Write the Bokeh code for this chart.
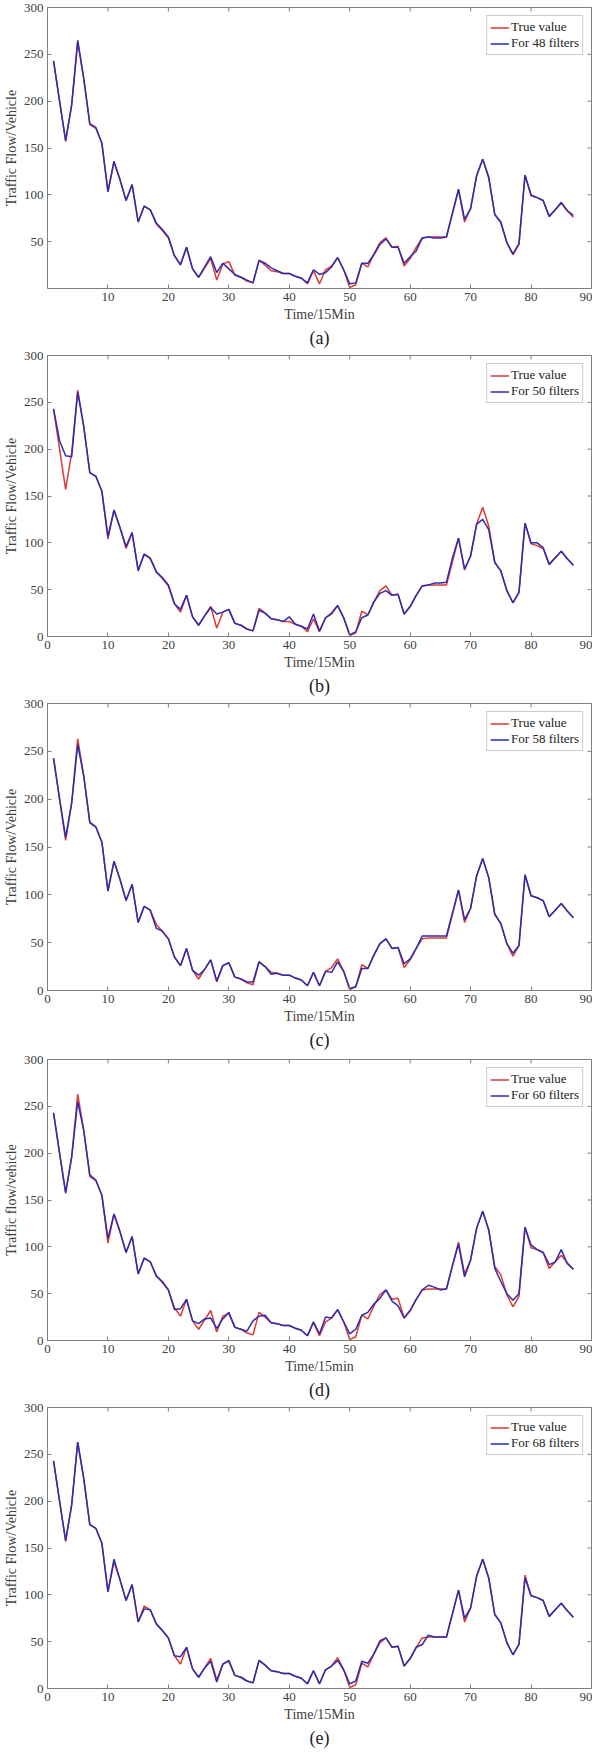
from bokeh.plotting import figure
from bokeh.models import Range1d, FixedTicker, Title, Legend, LegendItem
from bokeh.layouts import column
from bokeh.embed import file_html
from bokeh.resources import INLINE
import math

# time index (one step = 15 min)
time_steps = list(range(1, 88))

# measured traffic flow (vehicles)
true_value = [243, 200, 157, 196, 263, 224, 175, 171, 155, 104,
              135, 116, 94, 111, 71, 88, 84, 69, 62, 54,
              35, 26, 44, 21, 12, 22, 32, 9, 26, 29,
              14, 12, 8, 6, 30, 25, 19, 18, 16, 16,
              13, 11, 5, 19, 5, 20, 24, 33, 20, 1,
              4, 27, 23, 37, 49, 54, 44, 45, 24, 32,
              44, 54, 55, 55, 55, 55, 80, 105, 71, 86,
              120, 138, 118, 79, 70, 49, 36, 47, 121, 99,
              97, 94, 77, 84, 91, 83, 76]

# predictions for the different filter counts
pred_48 = [243, 200, 158, 196, 265, 224, 176, 172, 155, 103,
           136, 116, 94, 111, 71, 88, 84, 70, 63, 55,
           35, 25, 44, 21, 12, 23, 34, 17, 27, 21,
           15, 12, 9, 6, 30, 27, 22, 19, 16, 16,
           13, 11, 6, 20, 15, 17, 23, 33, 20, 5,
           6, 27, 27, 36, 47, 53, 44, 44, 27, 34,
           40, 54, 55, 54, 54, 55, 81, 106, 74, 85,
           121, 138, 119, 79, 71, 49, 37, 48, 121, 100,
           97, 94, 77, 84, 92, 83, 78]

pred_50 = [243, 209, 193, 192, 261, 224, 175, 171, 155, 107,
           135, 116, 96, 111, 70, 88, 83, 69, 63, 55,
           35, 29, 44, 21, 12, 22, 31, 24, 26, 29,
           14, 12, 8, 6, 28, 25, 19, 18, 16, 21,
           13, 11, 8, 24, 6, 20, 25, 33, 20, 2,
           5, 20, 23, 37, 46, 49, 44, 45, 24, 32,
           44, 54, 55, 57, 57, 58, 84, 105, 72, 86,
           120, 125, 114, 79, 70, 49, 36, 47, 121, 100,
           100, 95, 77, 84, 91, 83, 76]

pred_58 = [243, 200, 160, 196, 257, 224, 176, 171, 155, 104,
           135, 116, 94, 111, 71, 88, 84, 65, 62, 54,
           35, 26, 44, 21, 16, 22, 32, 10, 26, 29,
           14, 12, 9, 9, 30, 25, 17, 18, 16, 16,
           13, 11, 5, 19, 5, 20, 19, 30, 20, 2,
           4, 23, 23, 37, 49, 54, 44, 45, 28, 33,
           44, 57, 57, 57, 57, 57, 81, 105, 74, 86,
           120, 138, 118, 80, 70, 49, 39, 47, 121, 99,
           97, 94, 77, 84, 91, 83, 76]

pred_60 = [243, 200, 158, 196, 255, 224, 177, 171, 155, 109,
           135, 116, 94, 111, 71, 88, 84, 69, 63, 54,
           33, 34, 44, 21, 18, 23, 24, 13, 23, 30,
           14, 12, 10, 21, 26, 27, 19, 18, 16, 16,
           13, 11, 5, 20, 7, 25, 24, 33, 20, 7,
           12, 27, 30, 39, 45, 54, 42, 37, 24, 32,
           44, 54, 59, 57, 54, 55, 80, 103, 68, 86,
           120, 138, 118, 77, 63, 50, 43, 50, 121, 102,
           97, 94, 81, 84, 97, 82, 76]

pred_68 = [243, 200, 158, 196, 263, 224, 175, 171, 155, 103,
           138, 116, 94, 111, 71, 85, 84, 69, 62, 54,
           35, 34, 44, 21, 12, 22, 29, 7, 26, 30,
           14, 12, 8, 6, 30, 25, 19, 18, 16, 16,
           13, 11, 5, 19, 5, 20, 24, 30, 20, 5,
           8, 29, 27, 37, 51, 54, 44, 45, 24, 32,
           44, 47, 57, 55, 55, 55, 80, 105, 75, 86,
           120, 138, 118, 79, 70, 49, 36, 47, 118, 99,
           97, 94, 77, 84, 91, 83, 76]

x_ticks_all = [0, 10, 20, 30, 40, 50, 60, 70, 80, 90]
y_ticks_all = [0, 50, 100, 150, 200, 250, 300]

FONT = "Liberation Serif"
RED = "#dc3a30"
BLUE = "#2c2cb4"
GRAY = "#7f7f7f"
TEXT = "#404040"


def make_panel(pred, legend_label, caption, ylab, xlab, height, bottom,
               xt=x_ticks_all, yt=y_ticks_all, left=36):
    p = figure(width=592, height=height, title=None, toolbar_location=None,
               output_backend="svg", x_range=Range1d(0, 90), y_range=Range1d(0, 300),
               min_border_top=7, min_border_bottom=bottom, min_border_left=left,
               min_border_right=1)
    p.xgrid.visible = False
    p.ygrid.visible = False
    p.outline_line_color = GRAY
    p.outline_line_alpha = 1.0

    r_true = p.line(time_steps, true_value, color=RED, line_width=1.5)
    r_pred = p.line(time_steps, pred, color=BLUE, line_width=1.5)

    for ax, ticks in ((p.xaxis[0], xt), (p.yaxis[0], yt)):
        ax.ticker = FixedTicker(ticks=ticks)
        ax.axis_line_color = None
        ax.major_tick_in = 4
        ax.major_tick_out = 0
        ax.major_tick_line_color = GRAY
        ax.minor_tick_line_color = None
        ax.major_label_text_font = FONT
        ax.major_label_text_font_size = "13px"
        ax.major_label_text_color = TEXT
        ax.axis_label_text_font = FONT
        ax.axis_label_text_font_size = "14px"
        ax.axis_label_text_font_style = "normal"
        ax.axis_label_text_color = TEXT
    p.xaxis.axis_label = xlab
    p.yaxis.axis_label = ylab
    p.xaxis.major_label_standoff = 4
    p.xaxis.axis_label_standoff = 3
    p.yaxis.major_label_standoff = 4
    p.yaxis.axis_label_standoff = 2

    # inward ticks on the top and right edges (the frame clips the outer half)
    p.scatter(xt, [p.y_range.end] * len(xt), marker="dash", angle=math.pi / 2,
              size=8, line_color=GRAY, line_width=1)
    p.scatter([p.x_range.end] * len(yt), yt, marker="dash",
              size=8, line_color=GRAY, line_width=1)

    legend = Legend(items=[LegendItem(label="True value", renderers=[r_true]),
                           LegendItem(label=legend_label, renderers=[r_pred])],
                    location="top_right")
    legend.label_text_font = FONT
    legend.label_text_font_size = "13px"
    legend.label_text_color = "#222222"
    legend.label_height = 13
    legend.glyph_height = 13
    legend.glyph_width = 19
    legend.label_standoff = 2
    legend.spacing = 0
    legend.padding = 3
    legend.margin = 8
    legend.border_line_color = "#999999"
    p.add_layout(legend)

    p.add_layout(Title(text=caption, align="center", text_font=FONT, standoff=2,
                       text_font_size="18px", text_font_style="normal",
                       text_color="#222222"), "below")
    return p


pa = make_panel(pred_48, "For 48 filters", "(a)", "Traffic Flow/Vehicle", "Time/15Min",
                348, 57, xt=x_ticks_all[1:], yt=y_ticks_all[1:])
pb = make_panel(pred_50, "For 50 filters", "(b)", "Traffic Flow/Vehicle", "Time/15Min",
                348, 57)
pc = make_panel(pred_58, "For 58 filters", "(c)", "Traffic Flow/Vehicle", "Time/15Min",
                356, 62)
pd_ = make_panel(pred_60, "For 60 filters", "(d)", "Traffic flow/vehicle", "Time/15min",
                 348, 57, left=41)
pe = make_panel(pred_68, "For 68 filters", "(e)", "Traffic Flow/Vehicle", "Time/15Min",
                348, 57, left=41)

layout = column(pa, pb, pc, pd_, pe)
open("out.html", "w").write(file_html(layout, INLINE))
